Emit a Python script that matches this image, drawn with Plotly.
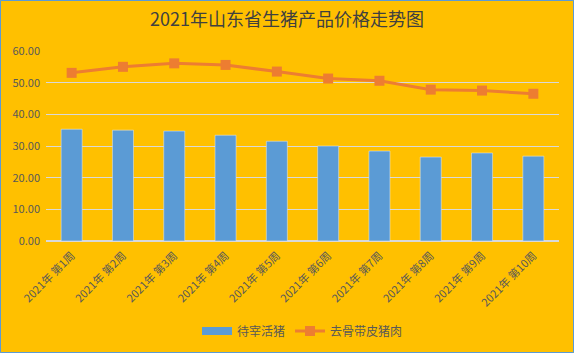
import plotly.graph_objects as go

weeks = [f"2021年 第{i}周" for i in range(1, 11)]
live_pig = [35.3, 35.0, 34.7, 33.4, 31.5, 30.0, 28.4, 26.5, 27.8, 26.8]
pork = [53.1, 55.0, 56.1, 55.6, 53.5, 51.3, 50.6, 47.8, 47.5, 46.5]
y_ticks = [0, 10, 20, 30, 40, 50, 60]

W, H = 574, 353
ml, mr, mt, mb = 46, 15, 51, 112
pw, ph = W - ml - mr, H - mt - mb

BAR_C, LINE_C = "#5B9BD5", "#ED7D31"

fig = go.Figure()
fig.add_trace(go.Bar(x=weeks, y=live_pig, name="待宰活猪", marker_color=BAR_C,
                     width=0.41, showlegend=False, legendgroup="a"))
# legend-only entry to draw a wide rectangular key like the original
fig.add_trace(go.Scatter(x=[None], y=[None], name="待宰活猪", mode="lines",
                         line=dict(color=BAR_C, width=8), legendgroup="a"))
fig.add_trace(go.Scatter(x=weeks, y=pork, name="去骨带皮猪肉", mode="lines+markers",
                         line=dict(color=LINE_C, width=3),
                         marker=dict(symbol="square", size=10, color=LINE_C)))

font_family = "Noto Sans CJK SC, Noto Sans, sans-serif"
fig.update_layout(
    width=W, height=H,
    margin=dict(l=ml, r=mr, t=mt, b=mb, autoexpand=False),
    paper_bgcolor="#FFC000", plot_bgcolor="#FFC000",
    title=dict(text="2021年山东省生猪产品价格走势图", x=0.5, xanchor="center",
               y=1 - 20 / H, yanchor="middle",
               font=dict(size=18, color="#404040", family=font_family)),
    font=dict(family=font_family, color="#595959", size=12),
    showlegend=True,
    legend=dict(orientation="h", x=0.5, xanchor="center", y=-(331 - mt - ph) / ph,
                yanchor="middle", font=dict(size=12, color="#595959"),
                bgcolor="rgba(0,0,0,0)", itemwidth=30),
    xaxis=dict(tickangle=-45, showgrid=False, showline=False, ticks="", automargin=False,
               range=[-0.5, len(weeks) - 0.5], ticklabelstandoff=5,
               tickfont=dict(size=11, color="#595959")),
    yaxis=dict(range=[0, 60], tickvals=y_ticks, tickformat=".2f", automargin=False,
               gridcolor="#D9D9D9", gridwidth=1, zeroline=True, zerolinecolor="#D9D9D9",
               ticklabelstandoff=5,
               tickfont=dict(size=11, color="#595959"), ticks="", showline=False),
)
fig.add_shape(type="rect", xref="paper", yref="paper",
              x0=-(ml - 0.5) / pw, x1=1 + (mr - 0.5) / pw,
              y0=-(mb - 0.5) / ph, y1=1 + (mt - 0.5) / ph,
              line=dict(color=BAR_C, width=1), fillcolor="rgba(0,0,0,0)", layer="below")
fig.write_html("out.html")
